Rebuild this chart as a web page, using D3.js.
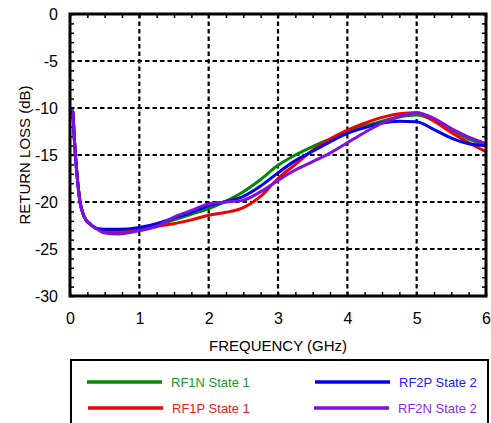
<!DOCTYPE html>
<html>
<head>
<meta charset="utf-8">
<script src="https://cdn.jsdelivr.net/npm/d3@7"></script>
<style>
	body { margin: 0; background: #fff; }
	text { font-family: "Liberation Sans", Arial, sans-serif; }
</style>
</head>
<body>
<svg id="chart"></svg>
<script>
// shared steep start (all four traces overlap here)
const freqStart = [0.02, 0.04, 0.06, 0.08, 0.11, 0.145, 0.19, 0.23, 0.3, 0.375];
const lossStart = [-10.2, -10.4, -13.0, -15.2, -17.8, -20.0, -21.3, -21.9, -22.4, -22.8];

// per-trace part
const freq = [0.5, 0.7, 1.0, 1.25, 1.5, 1.75, 2.0, 2.25, 2.5, 2.75, 3.0, 3.25, 3.5, 3.75, 4.0, 4.25, 4.5, 4.75, 5.0, 5.25, 5.5, 5.75, 6.0];
const rf1n = [-23.0, -23.1, -22.9, -22.5, -21.9, -21.3, -20.7, -19.9, -18.9, -17.6, -16.1, -15.0, -14.1, -13.3, -12.5, -11.9, -11.4, -10.95, -10.75, -11.3, -12.3, -13.3, -13.9];
const rf1p = [-23.1, -23.2, -23.0, -22.6, -22.3, -21.9, -21.4, -21.1, -20.6, -19.4, -17.5, -16.0, -14.5, -13.3, -12.35, -11.6, -11.0, -10.6, -10.5, -11.4, -12.6, -13.7, -14.65];
const rf2p = [-22.9, -22.9, -22.7, -22.3, -21.7, -21.1, -20.4, -19.95, -19.4, -18.3, -16.9, -15.6, -14.6, -13.6, -12.7, -12.1, -11.6, -11.4, -11.45, -12.3, -13.2, -13.8, -14.0];
const rf2n = [-23.3, -23.4, -23.05, -22.6, -21.6, -20.9, -20.2, -20.0, -19.8, -18.9, -17.7, -16.6, -15.7, -14.8, -13.7, -12.6, -11.6, -10.9, -10.5, -11.1, -12.2, -13.1, -13.8];

const seriesNames = ["RF1N State 1", "RF1P State 1", "RF2P State 2", "RF2N State 2"];
const seriesVals = [rf1n, rf1p, rf2p, rf2n];
const seriesColors = ["#008a00", "#f00000", "#0000f0", "#8010e0"];
const textColors = ["#22962a", "#f01818", "#2020ff", "#8a30e8"];

const xTicks = [0, 1, 2, 3, 4, 5, 6];
const yTicks = [0, -5, -10, -15, -20, -25, -30];

const W = 491, H = 423;
const svg = d3.select("#chart").attr("width", W).attr("height", H);

const x = d3.scaleLinear().domain([0, 6]).range([70, 486]);
const y = d3.scaleLinear().domain([-30, 0]).range([296, 14]);

// dashed grid
svg.append("g")
	.selectAll("line")
	.data(xTicks.slice(1, -1))
	.enter()
	.append("line")
	.attr("x1", (d) => x(d)).attr("x2", (d) => x(d))
	.attr("y1", y(0)).attr("y2", y(-30))
	.attr("stroke", "#000").attr("stroke-width", 2.2)
	.attr("stroke-dasharray", "4.5,3");
svg.append("g")
	.selectAll("line")
	.data(yTicks.slice(1, -1))
	.enter()
	.append("line")
	.attr("y1", (d) => y(d)).attr("y2", (d) => y(d))
	.attr("x1", x(0)).attr("x2", x(6))
	.attr("stroke", "#000").attr("stroke-width", 2.2)
	.attr("stroke-dasharray", "4.5,3");

// minor ticks on all sides, pointing inward
const tickLen = 4;
const xMinor = d3.range(0, 6.001, 0.25);
const yMinor = d3.range(-30, 0.001, 1);
svg.append("g").attr("transform", `translate(0,${y(-30)})`)
	.call(d3.axisTop(x).tickValues(xMinor).tickSize(tickLen).tickFormat(""))
	.call((g) => g.select(".domain").remove());
svg.append("g").attr("transform", `translate(0,${y(0)})`)
	.call(d3.axisBottom(x).tickValues(xMinor).tickSize(tickLen).tickFormat(""))
	.call((g) => g.select(".domain").remove());
svg.append("g").attr("transform", `translate(${x(0)},0)`)
	.call(d3.axisRight(y).tickValues(yMinor).tickSize(tickLen).tickFormat(""))
	.call((g) => g.select(".domain").remove());
svg.append("g").attr("transform", `translate(${x(6)},0)`)
	.call(d3.axisLeft(y).tickValues(yMinor).tickSize(tickLen).tickFormat(""))
	.call((g) => g.select(".domain").remove());
svg.selectAll(".tick line").attr("stroke", "#000").attr("stroke-width", 1.5);

// tick labels (plain hyphen minus like the original)
const xAxis = svg.append("g").attr("transform", `translate(0,${y(-30)})`)
	.call(d3.axisBottom(x).tickValues(xTicks).tickSize(0).tickPadding(17).tickFormat((d) => String(d)));
xAxis.select(".domain").remove();
xAxis.selectAll("text").attr("font-size", 16).attr("fill", "#000")
	.style("font-family", "'Liberation Sans', Arial, sans-serif");
const yAxis = svg.append("g").attr("transform", `translate(${x(0)},0)`)
	.call(d3.axisLeft(y).tickValues(yTicks).tickSize(0).tickPadding(12).tickFormat((d) => String(d)));
yAxis.select(".domain").remove();
yAxis.selectAll("text").attr("font-size", 16).attr("fill", "#000")
	.style("font-family", "'Liberation Sans', Arial, sans-serif");

// traces
const line = d3.line()
	.x((d) => x(d[0]))
	.y((d) => y(d[1]))
	.curve(d3.curveMonotoneX);
seriesVals.forEach((vals, i) => {
	const pts = freqStart.map((f, j) => [f, lossStart[j]])
		.concat(freq.map((f, j) => [f, vals[j]]));
	svg.append("path")
		.datum(pts)
		.attr("fill", "none")
		.attr("stroke", seriesColors[i])
		.attr("stroke-width", 3)
		.attr("stroke-linejoin", "round")
		.attr("d", line);
});

// frame
svg.append("rect")
	.attr("x", x(0)).attr("y", y(0))
	.attr("width", x(6) - x(0)).attr("height", y(-30) - y(0))
	.attr("fill", "none").attr("stroke", "#000").attr("stroke-width", 3);

// axis titles
svg.append("text")
	.attr("x", (x(0) + x(6)) / 2).attr("y", 351)
	.attr("text-anchor", "middle").attr("font-size", 15)
	.text("FREQUENCY (GHz)");
svg.append("text")
	.attr("transform", `translate(30,${(y(0) + y(-30)) / 2}) rotate(-90)`)
	.attr("text-anchor", "middle").attr("font-size", 15)
	.text("RETURN LOSS (dB)");

// legend
svg.append("rect")
	.attr("x", 71).attr("y", 360).attr("width", 417).attr("height", 80)
	.attr("fill", "#fff").attr("stroke", "#000").attr("stroke-width", 2);
const legendPos = [[87, 382], [88, 408], [315, 382], [314, 408]];
seriesNames.forEach((name, i) => {
	const [lx, ly] = legendPos[i];
	svg.append("line")
		.attr("x1", lx).attr("x2", lx + 75)
		.attr("y1", ly).attr("y2", ly)
		.attr("stroke", seriesColors[i]).attr("stroke-width", 3.5);
	svg.append("text")
		.attr("x", lx + 84).attr("y", ly + 5)
		.attr("font-size", 13)
		.attr("fill", textColors[i])
		.text(name);
});
</script>
</body>
</html>
